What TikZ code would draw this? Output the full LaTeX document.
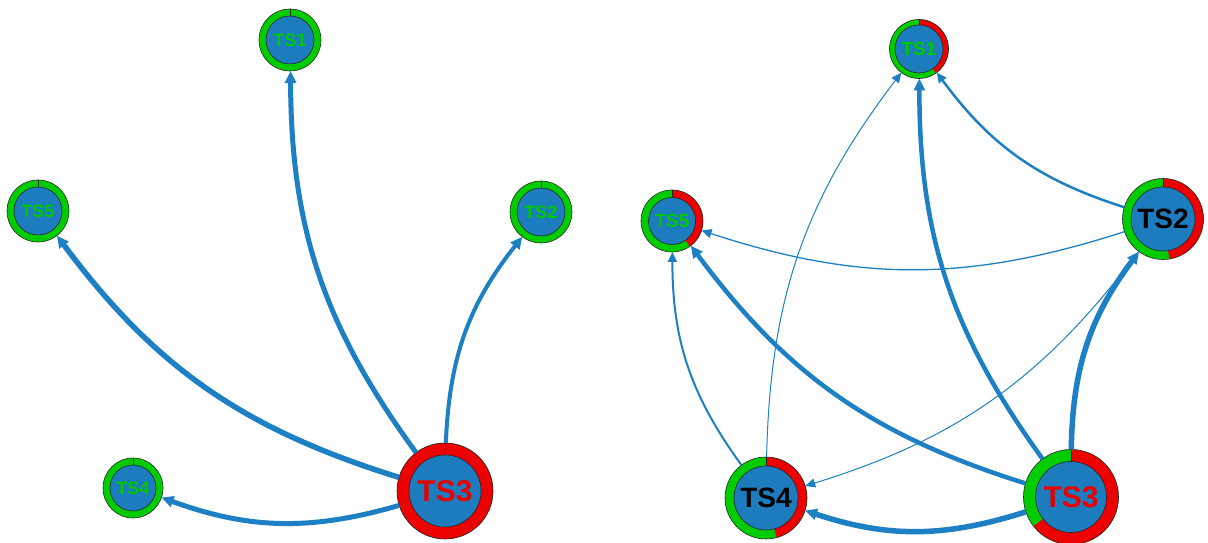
\documentclass[tikz,border=0pt]{standalone}
\usepackage{fontspec}
\setmainfont{Liberation Sans}
\usetikzlibrary{arrows.meta}
\definecolor{nodeblue}{RGB}{28,124,190}
\definecolor{ringgreen}{RGB}{0,204,0}
\definecolor{ringred}{RGB}{236,0,0}
\definecolor{edgeblue}{RGB}{30,128,196}
\definecolor{textgreen}{RGB}{0,200,0}
\definecolor{textred}{RGB}{230,0,0}
\newcommand{\pienode}[9]{%
  \fill[ringgreen] (#2,#3) circle[radius=#4];
  \fill[ringred] (#2,#3) -- ++(0,#4) arc[start angle=90, end angle=#6, radius=#4] -- cycle;
  \draw[outline] (#2,#3) circle[radius=#4];
  \draw[outline] (#2,#3) ++(0,#5) -- ++(0,#4-#5);
  \filldraw[fill=nodeblue, outline] (#2,#3) circle[radius=#5];
  \node[font=\bfseries\fontsize{#8}{#8}\selectfont, text=#7, circle, minimum size=2*#4, inner sep=0pt, outer sep=0pt] (#1) at (#2,#3) {#9};
}
\begin{document}
\begin{tikzpicture}[x=1pt,y=1pt,
  outline/.style={draw=black!85, line width=0.6pt},
  edge/.style={draw=edgeblue, -{Triangle[length=12pt,width=11pt]}},
  thinedge/.style={draw=edgeblue, -{Triangle[length=10pt,width=9pt]}},
  bl/.style={bend left=18}]
\useasboundingbox (0,0) rectangle (1208,543);
% left graph
\pienode{L1}{290}{503}{31}{24}{90}{textgreen}{18}{TS1}
\pienode{L2}{541}{331}{31}{24}{90}{textgreen}{18}{TS2}
\pienode{L5}{38}{332}{31}{24}{90}{textgreen}{18}{TS5}
\pienode{L4}{133}{55}{30}{23}{90}{textgreen}{18}{TS4}
\pienode{L3}{445}{52}{48}{36}{-270}{textred}{30}{TS3}
% right graph
\pienode{R1}{919}{494}{29.5}{24}{-55}{textgreen}{19}{TS1}
\pienode{R2}{1163}{324}{40.5}{32}{-81}{black}{28}{TS2}
\pienode{R5}{672}{322}{31}{23.5}{-55}{textgreen}{19}{TS5}
\pienode{R4}{766}{45}{41}{32}{-75}{black}{28}{TS4}
\pienode{R3}{1071}{46}{47.5}{35.5}{-142}{textred}{30}{TS3}
% left edges
\draw[edge, line width=5pt] (L3) to[bl] (L1);
\draw[edge, line width=4pt] (L3) to[bl] (L2);
\draw[edge, line width=5.5pt] (L3) to[bl] (L5);
\draw[edge, line width=5pt] (L3) to[bl] (L4);
% right edges
\draw[edge, line width=4.5pt] (R3) to[bl] (R1);
\draw[edge, line width=5.5pt] (R3) to[bl] (R2);
\draw[edge, line width=4.5pt] (R3) to[bl] (R5);
\draw[edge, line width=5.5pt] (R3) to[bl] (R4);
\draw[thinedge, line width=2pt] (R4) to[bl] (R5);
\draw[thinedge, line width=2.5pt] (R2) to[bl] (R1);
\draw[thinedge, line width=1.3pt] (R2) to[bl] (R5);
\draw[thinedge, line width=1pt] (R2) to[bl] (R4);
\draw[thinedge, line width=1pt] (R4) to[bl] (R1);
\end{tikzpicture}
\end{document}
